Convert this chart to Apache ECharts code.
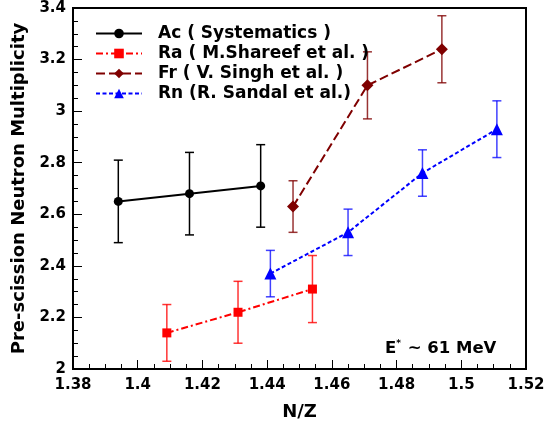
<!DOCTYPE html>
<html><head><meta charset="utf-8">
<script src="https://cdn.jsdelivr.net/npm/echarts@6/dist/echarts.min.js"></script>
<style>html,body{margin:0;padding:0;background:#fff}#c{width:550px;height:423px}</style>
</head><body><div id="c"></div>
<script>
// ---- data ----
const acX = [1.394, 1.416, 1.438];
const acY = [2.65, 2.68, 2.71];
const acErr = [0.16, 0.16, 0.16];

const raX = [1.409, 1.431, 1.454];
const raY = [2.14, 2.22, 2.31];
const raErr = [0.11, 0.12, 0.13];

const frX = [1.448, 1.471, 1.494];
const frY = [2.63, 3.10, 3.24];
const frErr = [0.10, 0.13, 0.13];

const rnX = [1.441, 1.465, 1.488, 1.511];
const rnY = [2.37, 2.53, 2.76, 2.93];
const rnErr = [0.09, 0.09, 0.09, 0.11];

const seriesNames = ['Ac ( Systematics )', 'Ra ( M.Shareef et al. )', 'Fr ( V. Singh et al. )', 'Rn (R. Sandal et al.)'];

const FONT = 'DejaVu Sans';

function pts(xs, ys) { return xs.map((x, i) => [x, ys[i]]); }
function errData(xs, ys, es) { return xs.map((x, i) => [x, ys[i] - es[i], ys[i] + es[i]]); }

function errSeries(xs, ys, es, color) {
  return {
    type: 'custom',
    data: errData(xs, ys, es),
    z: 1,
    silent: true,
    renderItem: function (params, api) {
      const x = api.value(0);
      const lo = api.coord([x, api.value(1)]);
      const hi = api.coord([x, api.value(2)]);
      const w = 4.5;
      const st = { stroke: color, lineWidth: 1.5 };
      return {
        type: 'group',
        children: [
          { type: 'line', shape: { x1: lo[0], y1: lo[1], x2: hi[0], y2: hi[1] }, style: st },
          { type: 'line', shape: { x1: lo[0] - w, y1: lo[1], x2: lo[0] + w, y2: lo[1] }, style: st },
          { type: 'line', shape: { x1: hi[0] - w, y1: hi[1], x2: hi[0] + w, y2: hi[1] }, style: st }
        ]
      };
    }
  };
}

const chart = echarts.init(document.getElementById('c'), null, { renderer: 'canvas' });
const axisCommon = {
  axisLine: { show: true, lineStyle: { color: '#000', width: 2 } },
  axisTick: { show: true, inside: true, length: 9, lineStyle: { color: '#000', width: 1 } },
  minorTick: { show: true, splitNumber: 4, length: 5, lineStyle: { color: '#000', width: 1 } },
  splitLine: { show: false },
  axisLabel: { color: '#000', fontFamily: FONT, fontWeight: 'bold', fontSize: 15 },
  nameTextStyle: { color: '#000', fontFamily: FONT, fontWeight: 'bold', fontSize: 18 }
};

chart.setOption({
  animation: false,
  backgroundColor: '#fff',
  grid: { left: 73, right: 24, top: 8, bottom: 54, show: true, borderColor: '#000', borderWidth: 2,
          containLabel: false, outerBoundsMode: 'none' },
  xAxis: Object.assign({}, axisCommon, {
    type: 'value', min: 1.38, max: 1.52, interval: 0.02,
    name: 'N/Z', nameLocation: 'middle', nameGap: 34,
    axisLabel: Object.assign({}, axisCommon.axisLabel, { margin: 9 })
  }),
  yAxis: Object.assign({}, axisCommon, {
    type: 'value', min: 2, max: 3.4, interval: 0.2,
    name: 'Pre-scission Neutron Multiplicity', nameLocation: 'middle', nameGap: 32, nameRotate: 90,
    axisLabel: Object.assign({}, axisCommon.axisLabel, { margin: 7 })
  }),
  legend: {
    data: seriesNames,
    orient: 'vertical', left: 90, top: 20,
    itemWidth: 46, itemHeight: 12, itemGap: 3,
    textStyle: { color: '#000', fontFamily: FONT, fontWeight: 'bold', fontSize: 17, padding: [0, 0, 0, 11] }
  },
  graphic: [{
    type: 'text', left: 385, top: 339,
    style: {
      text: '{a|E}{s|*}{a| ~ 61 MeV}',
      rich: {
        a: { fontFamily: FONT, fontWeight: 'bold', fontSize: 16.5, fill: '#000', verticalAlign: 'bottom' },
        s: { fontFamily: FONT, fontWeight: 'bold', fontSize: 9, fill: '#000', verticalAlign: 'top', padding: [0, 1, 9, 0] }
      }
    }
  }],
  series: [
    errSeries(acX, acY, acErr, '#000'),
    errSeries(raX, raY, raErr, 'rgba(255,0,0,0.8)'),
    errSeries(frX, frY, frErr, 'rgba(128,0,0,0.8)'),
    errSeries(rnX, rnY, rnErr, 'rgba(0,0,255,0.75)'),
    { name: seriesNames[0], type: 'line', data: pts(acX, acY), symbol: 'circle', symbolSize: 9,
      itemStyle: { color: '#000' }, lineStyle: { color: '#000', width: 2, type: 'solid' }, z: 3 },
    { name: seriesNames[1], type: 'line', data: pts(raX, raY), symbol: 'rect', symbolSize: 9,
      itemStyle: { color: '#ff0000' }, lineStyle: { color: '#ff0000', width: 2, type: [7, 3, 2, 3] }, z: 3 },
    { name: seriesNames[2], type: 'line', data: pts(frX, frY), symbol: 'diamond', symbolSize: 12,
      itemStyle: { color: '#7f0000' }, lineStyle: { color: '#7f0000', width: 2, type: [9, 4] }, z: 3 },
    { name: seriesNames[3], type: 'line', data: pts(rnX, rnY), symbol: 'triangle', symbolSize: 12,
      itemStyle: { color: '#0000ff' }, lineStyle: { color: '#0000ff', width: 2, type: [4, 2.5] }, z: 3 }
  ]
});
</script></body></html>
